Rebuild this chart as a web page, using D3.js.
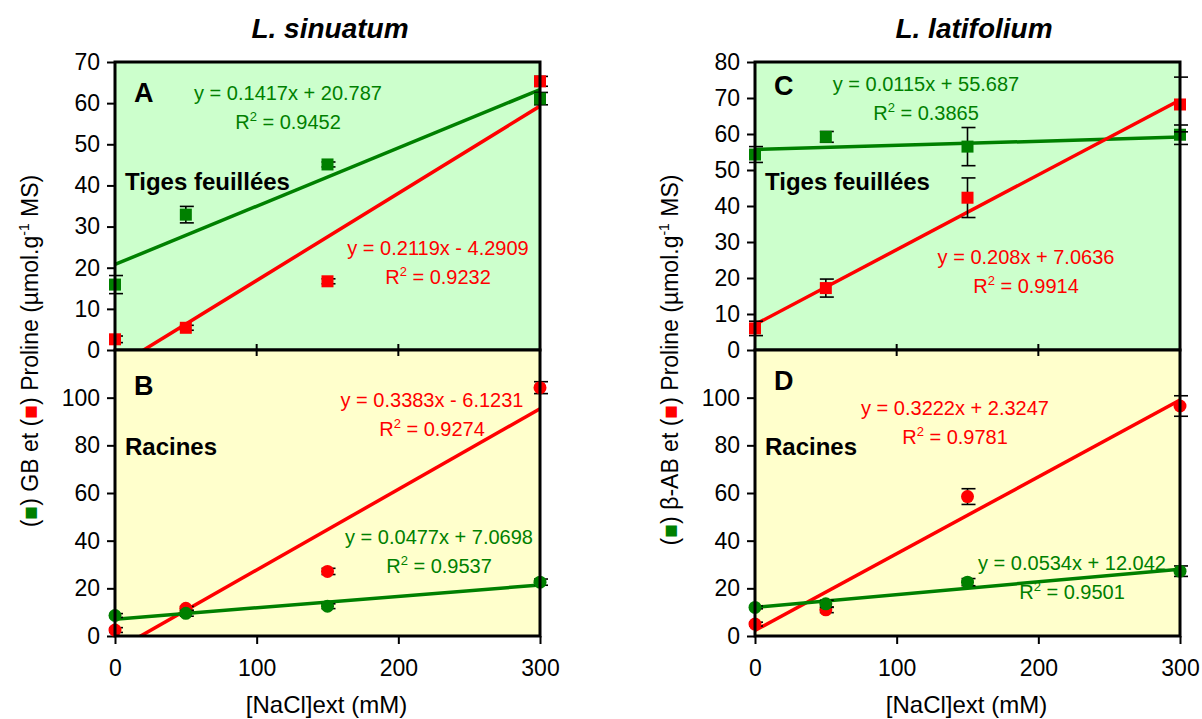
<!DOCTYPE html>
<html>
<head>
<meta charset="utf-8">
<script src="https://cdn.jsdelivr.net/npm/d3@7"></script>
<style>
  body { margin: 0; background: #fff; }
  text { font-family: "Liberation Sans", Arial, sans-serif; }
</style>
</head>
<body>
<script>
var doses = [0, 50, 150, 300];

// L. sinuatum, leafy stems (A)
var sinShootGB = [15.9, 32.9, 45.1, 61.1];
var sinShootGBErr = [2.2, 2.0, 0.6, 1.5];
var sinShootPro = [2.6, 5.4, 16.7, 65.3];
var sinShootProErr = [0.8, 0.6, 0.6, 1.2];
// L. sinuatum, roots (B)
var sinRootGB = [8.6, 9.5, 12.5, 22.6];
var sinRootGBErr = [0.8, 1.2, 1.0, 1.3];
var sinRootPro = [2.5, 11.6, 27.1, 104.2];
var sinRootProErr = [1.0, 0.8, 1.3, 2.5];
// L. latifolium, leafy stems (C)
var latShootAB = [54.3, 59.2, 56.5, 59.8];
var latShootABErr = [2.2, 1.5, 5.3, 2.7];
var latShootPro = [6.0, 17.2, 42.3, 68.2];
var latShootProErr = [2.0, 2.5, 5.5, 7.6];
// L. latifolium, roots (D)
var latRootAB = [12.0, 13.5, 22.6, 27.2];
var latRootABErr = [0.6, 1.5, 1.5, 2.2];
var latRootPro = [5.0, 11.0, 58.5, 96.5];
var latRootProErr = [0.8, 1.2, 3.3, 4.3];

// linear fits: [slope, intercept, R2]
var fitSinShootGB = [0.1417, 20.787, 0.9452];
var fitSinShootPro = [0.2119, -4.2909, 0.9232];
var fitSinRootPro = [0.3383, -6.1231, 0.9274];
var fitSinRootGB = [0.0477, 7.0698, 0.9537];
var fitLatShootAB = [0.0115, 55.687, 0.3865];
var fitLatShootPro = [0.208, 7.0636, 0.9914];
var fitLatRootPro = [0.3222, 2.3247, 0.9781];
var fitLatRootAB = [0.0534, 12.042, 0.9501];

var xTicks = [0, 100, 200, 300];
var shootTicksSin = [0, 10, 20, 30, 40, 50, 60, 70];
var shootTicksLat = [0, 10, 20, 30, 40, 50, 60, 70, 80];
var rootTicks = [0, 20, 40, 60, 80, 100];

var GREEN = '#008000', RED = '#ff0000';
var FONT = '"Liberation Sans", Arial, sans-serif';

var columns = [
  {title: 'L. sinuatum', left: 115, right: 540, titleX: 330, compound: 'GB', labelX: 38, labelY: 351,
   panels: [
     {letter: 'A', letterY: 102, top: 62, bottom: 350, max: 70, ticks: shootTicksSin, fill: '#ccffcc',
      shape: 'square', organ: 'Tiges feuillées', organY: 190,
      series: [
        {v: sinShootGB, e: sinShootGBErr, fit: fitSinShootGB, color: GREEN, eqX: 288, eqY: 100},
        {v: sinShootPro, e: sinShootProErr, fit: fitSinShootPro, color: RED, eqX: 438, eqY: 255}]},
     {letter: 'B', letterY: 395, top: 350, bottom: 636, max: 120, ticks: rootTicks, fill: '#ffffcc',
      shape: 'circle', organ: 'Racines', organY: 455,
      series: [
        {v: sinRootPro, e: sinRootProErr, fit: fitSinRootPro, color: RED, eqX: 432, eqY: 407},
        {v: sinRootGB, e: sinRootGBErr, fit: fitSinRootGB, color: GREEN, eqX: 439, eqY: 544}]}
   ]},
  {title: 'L. latifolium', left: 755, right: 1180, titleX: 974, compound: '\u03b2-AB', labelX: 678, labelY: 360,
   panels: [
     {letter: 'C', letterY: 95, top: 62, bottom: 350, max: 80, ticks: shootTicksLat, fill: '#ccffcc',
      shape: 'square', organ: 'Tiges feuillées', organY: 190,
      series: [
        {v: latShootAB, e: latShootABErr, fit: fitLatShootAB, color: GREEN, eqX: 926, eqY: 91},
        {v: latShootPro, e: latShootProErr, fit: fitLatShootPro, color: RED, eqX: 1026, eqY: 264}]},
     {letter: 'D', letterY: 390, top: 350, bottom: 636, max: 120, ticks: rootTicks, fill: '#ffffcc',
      shape: 'circle', organ: 'Racines', organY: 455,
      series: [
        {v: latRootPro, e: latRootProErr, fit: fitLatRootPro, color: RED, eqX: 955, eqY: 415},
        {v: latRootAB, e: latRootABErr, fit: fitLatRootAB, color: GREEN, eqX: 1072, eqY: 570}]}
   ]}
];

var svg = d3.select('body').append('svg').attr('width', 1202).attr('height', 719);

function eqText(f) {
  return 'y = ' + f[0] + 'x ' + (f[1] < 0 ? '- ' : '+ ') + Math.abs(f[1]);
}

columns.forEach(function(col, ci) {
  var xs = d3.scaleLinear().domain([0, 300]).range([col.left, col.right]);

  svg.append('text').attr('x', col.titleX).attr('y', 38).attr('text-anchor', 'middle')
    .attr('font-size', 28).attr('font-weight', 'bold').attr('font-style', 'italic').text(col.title);

  col.panels.forEach(function(p, pi) {
    var ys = d3.scaleLinear().domain([0, p.max]).range([p.bottom, p.top]);
    var g = svg.append('g');
    var clipId = 'clip' + ci + pi;
    svg.append('clipPath').attr('id', clipId).append('rect')
      .attr('x', col.left).attr('y', p.top).attr('width', col.right - col.left).attr('height', p.bottom - p.top);

    g.append('rect').attr('x', col.left).attr('y', p.top).attr('width', col.right - col.left)
      .attr('height', p.bottom - p.top).attr('fill', p.fill);

    // y axis
    var ya = g.append('g').attr('transform', 'translate(' + col.left + ',0)')
      .call(d3.axisLeft(ys).tickValues(p.ticks).tickSize(8).tickPadding(7).tickFormat(d3.format('d')));
    ya.select('.domain').remove();
    ya.attr('font-size', 23).attr('font-family', FONT);
    ya.selectAll('line').attr('stroke-width', 2);

    // trend lines
    p.series.forEach(function(s) {
      g.append('line').attr('clip-path', 'url(#' + clipId + ')')
        .attr('x1', xs(0)).attr('y1', ys(s.fit[1]))
        .attr('x2', xs(300)).attr('y2', ys(s.fit[0] * 300 + s.fit[1]))
        .attr('stroke', s.color).attr('stroke-width', 3.5);
    });

    // error bars then markers
    p.series.forEach(function(s) {
      var pts = doses.map(function(d, i) { return {x: d, y: s.v[i], e: s.e[i]}; });
      var eb = g.append('g').selectAll('g').data(pts).enter().append('g')
        .attr('stroke', '#000').attr('stroke-width', 1.6);
      eb.append('line').attr('x1', function(d) { return xs(d.x); }).attr('x2', function(d) { return xs(d.x); })
        .attr('y1', function(d) { return ys(d.y - d.e); }).attr('y2', function(d) { return ys(d.y + d.e); });
      [-1, 1].forEach(function(sg) {
        eb.append('line').attr('x1', function(d) { return xs(d.x) - 6; }).attr('x2', function(d) { return xs(d.x) + 8; })
          .attr('y1', function(d) { return ys(d.y + sg * d.e); }).attr('y2', function(d) { return ys(d.y + sg * d.e); });
      });
      if (p.shape === 'square') {
        g.append('g').selectAll('rect').data(pts).enter().append('rect')
          .attr('x', function(d) { return xs(d.x) - 6; }).attr('y', function(d) { return ys(d.y) - 6; })
          .attr('width', 12).attr('height', 12).attr('fill', s.color);
      } else {
        g.append('g').selectAll('circle').data(pts).enter().append('circle')
          .attr('cx', function(d) { return xs(d.x); }).attr('cy', function(d) { return ys(d.y); })
          .attr('r', 6.5).attr('fill', s.color);
      }
    });

    // frame
    g.append('rect').attr('x', col.left).attr('y', p.top).attr('width', col.right - col.left)
      .attr('height', p.bottom - p.top).attr('fill', 'none').attr('stroke', '#000').attr('stroke-width', 3);

    g.append('text').attr('x', col.left + 19).attr('y', p.letterY).attr('font-size', 27)
      .attr('font-weight', 'bold').text(p.letter);
    g.append('text').attr('x', col.left + 10).attr('y', p.organY).attr('font-size', 24)
      .attr('font-weight', 'bold').text(p.organ);

    p.series.forEach(function(s) {
      g.append('text').attr('x', s.eqX).attr('y', s.eqY).attr('text-anchor', 'middle')
        .attr('font-size', 20).attr('fill', s.color).text(eqText(s.fit));
      var r2 = g.append('text').attr('x', s.eqX).attr('y', s.eqY + 29).attr('text-anchor', 'middle')
        .attr('font-size', 20).attr('fill', s.color);
      r2.append('tspan').text('R');
      r2.append('tspan').attr('font-size', 13).attr('dy', -8).text('2');
      r2.append('tspan').attr('dy', 8).text(' = ' + s.fit[2]);
    });
  });

  // x axis at the bottom of the root panel
  var xa = svg.append('g').attr('transform', 'translate(0,636)')
    .call(d3.axisBottom(xs).tickValues(xTicks).tickSize(8).tickPadding(16));
  xa.select('.domain').remove();
  xa.attr('font-size', 23).attr('font-family', FONT);
  xa.selectAll('line').attr('stroke-width', 2);

  // small ticks on the shoot/root boundary
  svg.append('g').selectAll('line').data(xTicks.slice(1, 3)).enter().append('line')
    .attr('x1', function(d) { return xs(d); }).attr('x2', function(d) { return xs(d); })
    .attr('y1', 344).attr('y2', 356).attr('stroke', '#000').attr('stroke-width', 2);

  svg.append('text').attr('x', (col.left + col.right) / 2 - 1).attr('y', 713).attr('text-anchor', 'middle')
    .attr('font-size', 24).text('[NaCl]ext (mM)');

  // rotated y label with coloured square keys
  var yl = svg.append('text').attr('transform', 'translate(' + col.labelX + ',' + col.labelY + ') rotate(-90)')
    .attr('text-anchor', 'middle').attr('font-size', 23);
  yl.append('tspan').text('(');
  yl.append('tspan').attr('fill', GREEN).text('\u25a0');
  yl.append('tspan').text(') ' + col.compound + ' et (');
  yl.append('tspan').attr('fill', RED).text('\u25a0');
  yl.append('tspan').text(') Proline (\u00b5mol.g');
  yl.append('tspan').attr('font-size', 14).attr('dy', -9).text('-1');
  yl.append('tspan').attr('dy', 9).text(' MS)');
});
</script>
</body>
</html>
